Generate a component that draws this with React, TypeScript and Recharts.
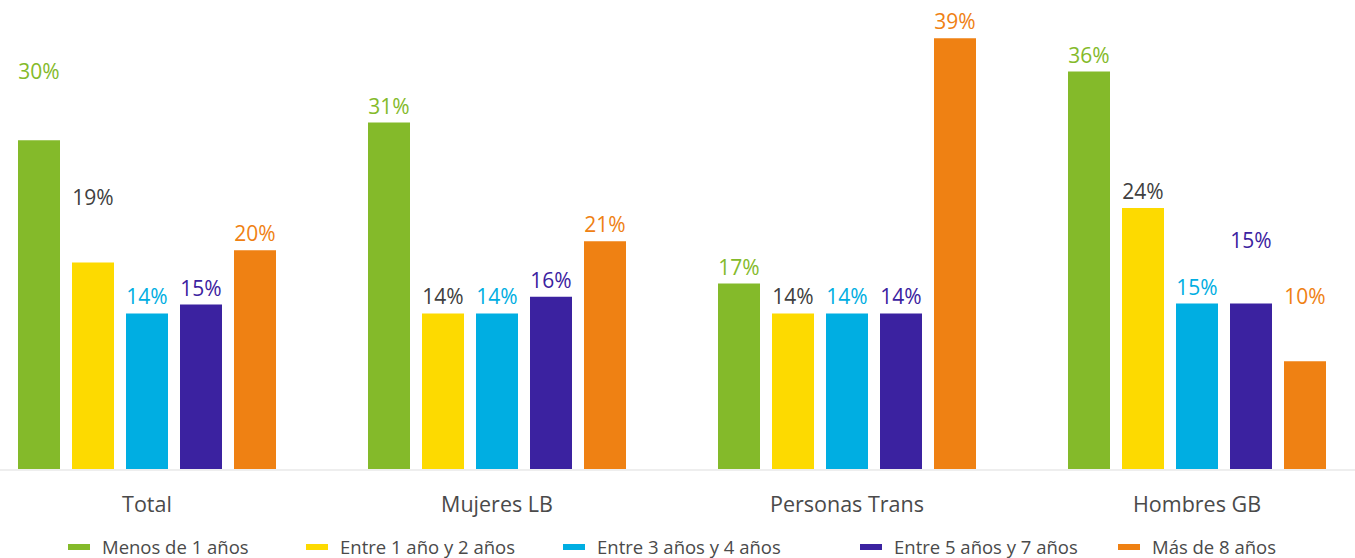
import React from 'react';
import { BarChart, Bar, XAxis, YAxis, LabelList } from 'recharts';

// ---- data ----
const categories = ['Total', 'Mujeres LB', 'Personas Trans', 'Hombres GB'];
const seriesNames = [
  'Menos de 1 años',
  'Entre 1 año y 2 años',
  'Entre 3 años y 4 años',
  'Entre 5 años y 7 años',
  'Más de 8 años',
];
const menos1 = [29.7, 31.3, 16.8, 35.9];
const entre1y2 = [18.7, 14.1, 14.1, 23.6];
const entre3y4 = [14.1, 14.1, 14.1, 15.0];
const entre5y7 = [14.9, 15.6, 14.1, 15.0];
const mas8 = [19.8, 20.6, 38.9, 9.8];

const seriesValues = [menos1, entre1y2, entre3y4, entre5y7, mas8];
const seriesKeys = ['s0', 's1', 's2', 's3', 's4'];

// ---- styles ----
const BAR_COLORS = ['#84BA2A', '#FDDA00', '#00AEE2', '#3B22A0', '#EF8113'];
const LABEL_COLORS = ['#84BA2A', '#404040', '#00AEE2', '#3B22A0', '#EF8113'];
// extra lift (px) of some value labels, as in the original
const LABEL_LIFT: number[][] = [
  [52, 0, 0, 0],
  [48, 0, 0, 0],
  [0, 0, 0, 0],
  [0, 0, 0, 47],
  [0, 0, 0, 48],
];
const LEGEND_X = [68, 306, 563, 860, 1118];
const FONT = '"Open Sans", sans-serif';
const TEXT = '#4a4a4a';

const data = categories.map((c, i) => {
  const row: Record<string, any> = { name: c };
  seriesKeys.forEach((k, s) => {
    row[k] = seriesValues[s][i];
  });
  return row;
});

const makeLabel = (s: number) => (props: any) => {
  const { x, y, width, value, index } = props;
  const lift = LABEL_LIFT[s][index] || 0;
  return (
    <text
      x={Number(x) + Number(width) / 2}
      y={Number(y) - 9 - lift}
      textAnchor="middle"
      fill={LABEL_COLORS[s]}
      fontSize={21}
      fontFamily={FONT}
    >
      {Math.round(Number(value))}%
    </text>
  );
};

const CatTick = (props: any) => {
  const { x, payload } = props;
  return (
    <text
      x={x}
      y={503}
      textAnchor="middle"
      dominantBaseline="central"
      fill={TEXT}
      fontSize={21.5}
      fontFamily={FONT}
    >
      {payload.value}
    </text>
  );
};

export default function App() {
  return (
    <div
      style={{
        position: 'fixed',
        left: 0,
        top: 0,
        width: 1355,
        height: 558,
        overflow: 'hidden',
        background: '#fff',
      }}
    >
      <div style={{ position: 'absolute', left: -28, top: 0 }}>
        <BarChart
          width={1400}
          height={558}
          data={data}
          margin={{ top: 26, right: 0, bottom: 48, left: 0 }}
          barSize={42}
          barGap={12}
        >
          <YAxis hide domain={[0, 40]} type="number" />
          <XAxis
            dataKey="name"
            height={40}
            axisLine={{ stroke: '#eeeeee', strokeWidth: 2 }}
            tickLine={false}
            tick={<CatTick />}
            interval={0}
          />
          {seriesKeys.map((k, s) => (
            <Bar key={k} dataKey={k} name={seriesNames[s]} fill={BAR_COLORS[s]} isAnimationActive={false}>
              <LabelList dataKey={k} content={makeLabel(s)} />
            </Bar>
          ))}
        </BarChart>
      </div>
      {seriesNames.map((n, s) => (
        <div
          key={n}
          style={{
            position: 'absolute',
            left: LEGEND_X[s],
            top: 536,
            height: 22,
            display: 'flex',
            alignItems: 'center',
            fontFamily: FONT,
            fontSize: 18.5,
            color: TEXT,
            whiteSpace: 'nowrap',
          }}
        >
          <span
            style={{
              display: 'inline-block',
              width: 22,
              height: 6,
              background: BAR_COLORS[s],
              marginRight: 12,
            }}
          />
          <span style={{ lineHeight: '22px' }}>{n}</span>
        </div>
      ))}
    </div>
  );
}
